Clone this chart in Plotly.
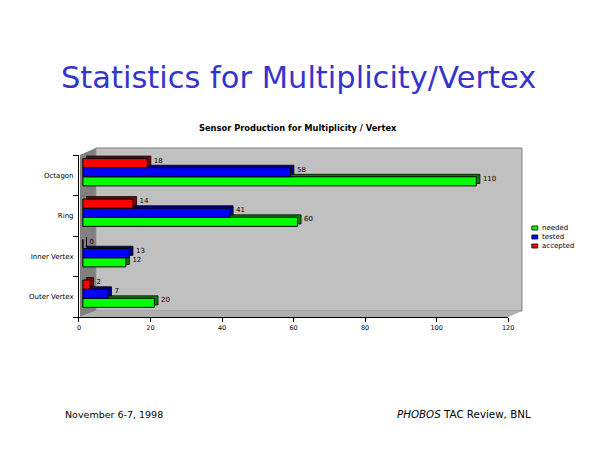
import plotly.graph_objects as go

# sensor production numbers
categories = ["Outer Vertex", "Inner Vertex", "Ring", "Octagon"]
needed = [20, 12, 60, 110]
tested = [7, 13, 41, 58]
accepted = [2, 0, 14, 18]

series_names = ["needed", "tested", "accepted"]
x_ticks = [0, 20, 40, 60, 80, 100, 120]

W, H = 600, 450


def px(x, y):
    # reference pixel -> paper coords
    return x / W, 1 - y / H


front = ["#00ff00", "#0000ff", "#ff0000"]
back = ["#008000", "#000080", "#800000"]
bar_w = 0.225
offsets = [-0.2625, -0.0375, 0.1875]
floor = 1.1   # bars start a little right of the axis (3D floor)
depth = 1.0   # x units of fake 3D depth

fig = go.Figure()
data = [needed, tested, accepted]

# dark "back faces" first so the front faces cover them
for i, vals in enumerate(data):
    fig.add_trace(go.Bar(
        y=categories, x=vals, base=floor + depth, orientation="h",
        width=bar_w, offset=offsets[i] + 0.06,
        marker=dict(color=back[i], line=dict(color="black", width=0.8)),
        text=[str(v) for v in vals], textposition="outside",
        textfont=dict(family="DejaVu Sans", size=7, color="black"),
        cliponaxis=False, showlegend=False, hoverinfo="skip",
    ))
for i, vals in enumerate(data):
    fig.add_trace(go.Bar(
        y=categories, x=vals, base=floor, orientation="h", name=series_names[i],
        width=bar_w, offset=offsets[i],
        marker=dict(color=front[i], line=dict(color="black", width=1)),
        showlegend=False,
    ))

# fake 3D walls behind the plot
x0, y0 = px(95, 148)
x1, y1 = px(527, 311)
lx, ly = px(79, 317)
ax_r = px(513, 0)[0]
shapes = [
    dict(type="rect", xref="paper", yref="paper", x0=x0, y0=y1, x1=x1, y1=y0,
         fillcolor="#c0c0c0", line=dict(color="#808080", width=1), layer="below"),
    dict(type="path", xref="paper", yref="paper",
         path=f"M {lx},{ly} L {lx},{px(0,155)[1]} L {x0},{y0} L {x0},{y1} Z",
         fillcolor="#808080", line=dict(width=0), layer="below"),
    dict(type="path", xref="paper", yref="paper",
         path=f"M {lx},{ly} L {ax_r},{ly} L {x1},{y1} L {x0},{y1} Z",
         fillcolor="#b0b0b0", line=dict(width=0), layer="below"),
]

annotations = [
    dict(text="Statistics for Multiplicity/Vertex", x=px(300, 0)[0], y=px(0, 77)[1],
         yanchor="middle", xref="paper", yref="paper", showarrow=False,
         font=dict(family="DejaVu Sans", size=30.5, color="#3535cc")),
    dict(text="<b>Sensor Production for Multiplicity / Vertex</b>",
         x=px(300, 0)[0], y=px(0, 128)[1], yanchor="middle",
         xref="paper", yref="paper", showarrow=False,
         font=dict(family="DejaVu Sans", size=8.3)),
    dict(text="November 6-7, 1998", x=px(62, 0)[0], y=px(0, 414)[1],
         xref="paper", yref="paper", xanchor="left", yanchor="middle",
         showarrow=False, font=dict(family="DejaVu Sans", size=9.5)),
    dict(text="<i>PHOBOS</i> TAC Review, BNL", x=px(538, 0)[0], y=px(0, 414)[1],
         xref="paper", yref="paper", xanchor="right", yanchor="middle",
         showarrow=False, font=dict(family="DejaVu Sans", size=10.3)),
]

# hand-made legend, small swatches like the original
for i, name in enumerate(series_names):
    ly_i = 228 + 9 * i
    sx0, sy0 = px(537, ly_i - 2)
    sx1, sy1 = px(543, ly_i + 2)
    shapes.append(dict(type="rect", xref="paper", yref="paper",
                       x0=sx0, x1=sx1, y0=sy1, y1=sy0, fillcolor=front[i],
                       line=dict(color="black", width=0.8)))
    annotations.append(dict(text=name, x=px(545, 0)[0], y=px(0, ly_i)[1],
                            xref="paper", yref="paper", xanchor="left",
                            yanchor="middle", showarrow=False,
                            font=dict(family="DejaVu Sans", size=7)))

fig.update_layout(
    width=W, height=H,
    margin=dict(l=0, r=0, t=0, b=0),
    paper_bgcolor="white", plot_bgcolor="rgba(0,0,0,0)",
    barmode="overlay",
    font=dict(family="DejaVu Sans", size=7, color="black"),
    showlegend=False,
    hovermode=False,
    shapes=shapes,
    annotations=annotations,
    xaxis=dict(domain=[px(78, 0)[0], px(513, 0)[0]], range=[0, 120], tickvals=x_ticks,
               showgrid=False, zeroline=False, showline=True, linecolor="black",
               ticks="outside", ticklen=4, tickcolor="black",
               tickfont=dict(size=6.5)),
    yaxis=dict(domain=[px(0, 317)[1], px(0, 155)[1]], showgrid=False,
               showline=True, linecolor="black", ticks="outside", ticklen=5,
               tickson="boundaries", tickcolor="black", tickfont=dict(size=7),
               ticklabelstandoff=3,
               categoryorder="array", categoryarray=categories),
)

# drop the default page margin so the 600x450 figure sits at the top-left
fig.write_html("out.html", post_script="document.body.style.margin='0px';",
               config={"displayModeBar": False})
